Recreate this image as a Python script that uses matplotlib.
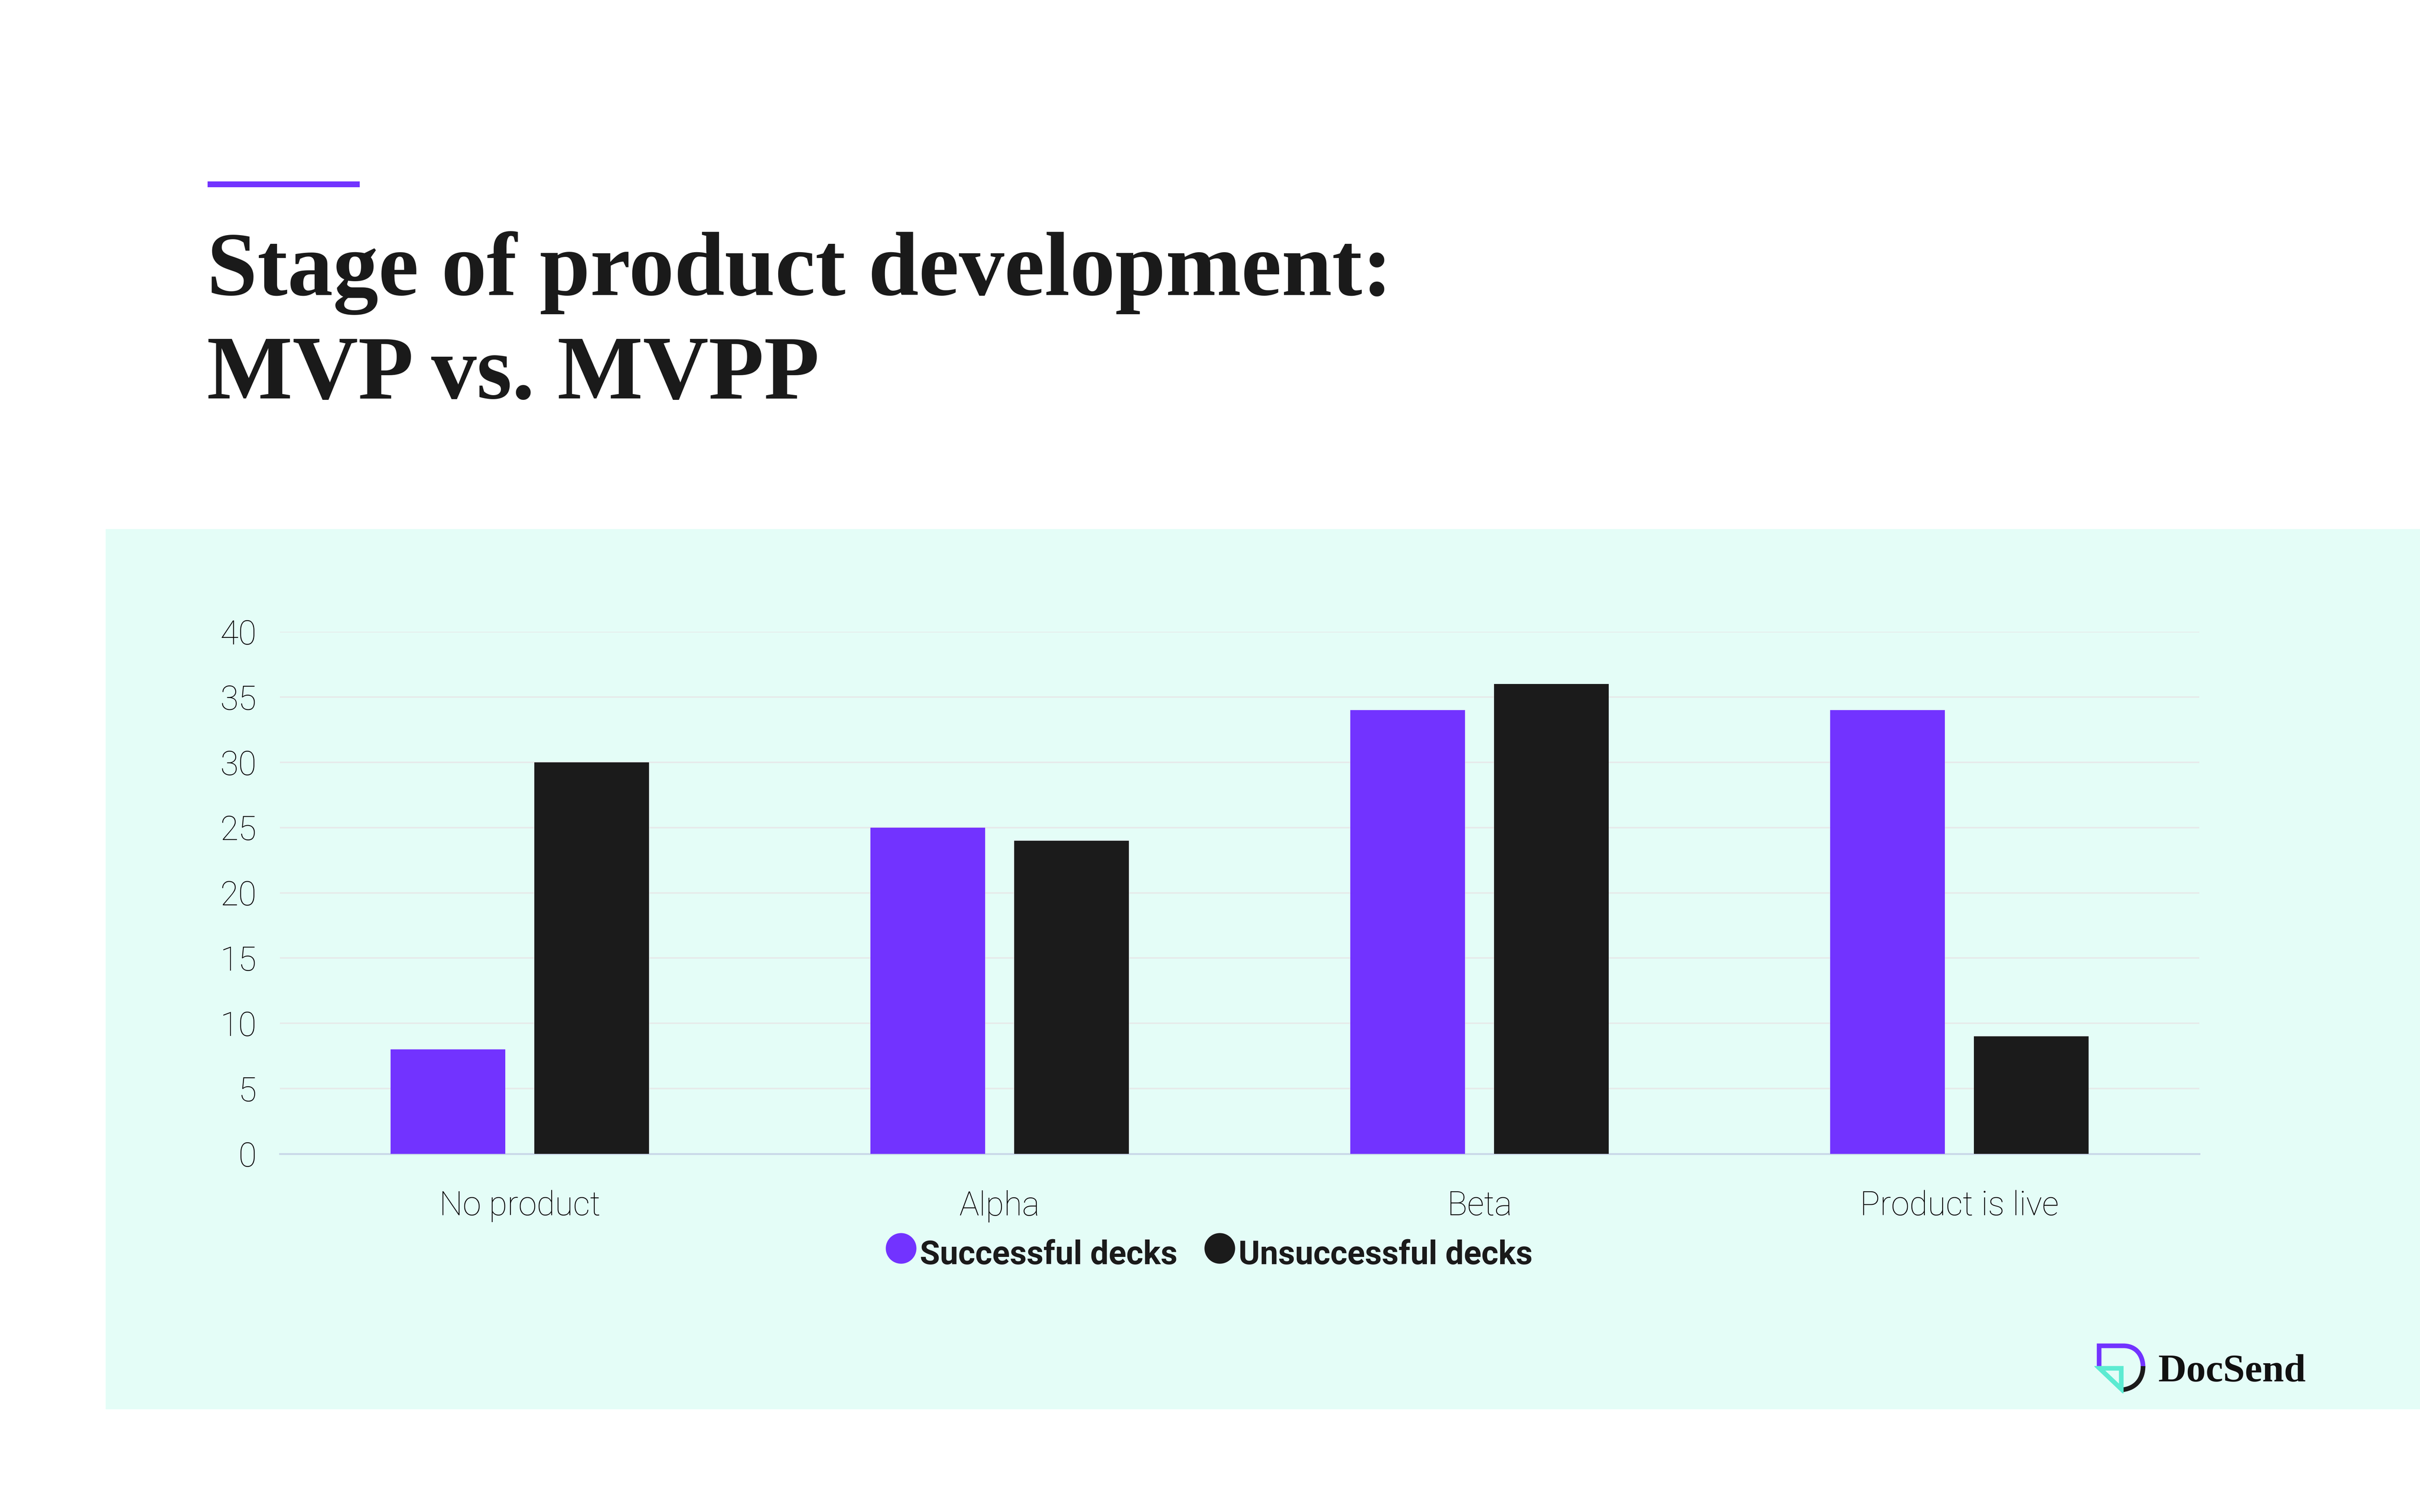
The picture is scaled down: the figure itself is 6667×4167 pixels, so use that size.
import matplotlib
matplotlib.use("Agg")
import matplotlib.pyplot as plt
import numpy as np
from matplotlib.legend_handler import HandlerLine2D
from matplotlib.lines import Line2D
from matplotlib.patches import PathPatch, Rectangle, Polygon
from matplotlib.path import Path

categories = ["No product", "Alpha", "Beta", "Product is live"]
successful = [8, 25, 34, 34]
unsuccessful = [30, 24, 36, 9]
y_ticks = [0, 5, 10, 15, 20, 25, 30, 35, 40]
series_names = ["Successful decks", "Unsuccessful decks"]
title_lines = ["Stage of product development:", "MVP vs. MVPP"]

W, H = 6667, 4167
PURPLE, DARK, PANEL, TEAL = "#7233FF", "#1B1B1B", "#E4FDF7", "#5CEBD2"
GRID, BASE, TXT = "#E6EAEA", "#C9D8E8", "#1A1A1A"
SERIF = "Liberation Serif"
SANS = "Roboto"

fig = plt.figure(figsize=(W / 400, H / 400), dpi=400, facecolor="white")

def fx(x):
    return x / W

def fy(y):
    return 1 - y / H

# panel and accent rule
fig.patches.append(Rectangle((fx(291), fy(3884)), 1 - fx(291), (3884 - 1458) / H,
                             transform=fig.transFigure, facecolor=PANEL, edgecolor="none", zorder=-5))
fig.patches.append(Rectangle((fx(572), fy(516)), (991 - 572) / W, 16 / H,
                             transform=fig.transFigure, facecolor=PURPLE, edgecolor="none"))

# title
fig.text(fx(570), fy(813), title_lines[0], family=SERIF, weight="bold", fontsize=45, color=TXT, va="baseline", ha="left")
fig.text(fx(570), fy(1098), title_lines[1], family=SERIF, weight="bold", fontsize=45, color=TXT, va="baseline", ha="left")

# chart
ax = fig.add_axes([fx(771), fy(3180), (6059 - 771) / W, (3180 - 1741) / H], facecolor="none")
x = np.arange(len(categories))
bar_w, off = 0.239, 0.15
ax.bar(x - off, successful, bar_w, color=PURPLE, zorder=3)
ax.bar(x + off, unsuccessful, bar_w, color=DARK, zorder=3)
ax.set_xlim(-0.5, len(categories) - 0.5)
ax.set_ylim(0, 40)
ax.set_yticks(y_ticks)
ax.set_xticks(x, categories)
ax.yaxis.grid(True, color=GRID, lw=0.75, zorder=0)
ax.set_axisbelow(True)
for s in ("top", "right", "left"):
    ax.spines[s].set_visible(False)
ax.spines["bottom"].set_color(BASE)
ax.spines["bottom"].set_linewidth(0.9)
ax.tick_params(axis="both", length=0, labelsize=16.5, labelcolor="#000000")
ax.tick_params(axis="y", pad=11.5)
ax.tick_params(axis="x", pad=18)
for lab in ax.get_xticklabels() + ax.get_yticklabels():
    lab.set_family(SANS)
    lab.set_fontweight("light")

# legend
class RaisedMarker(HandlerLine2D):
    def create_artists(self, *args, **kwargs):
        artists = super().create_artists(*args, **kwargs)
        for a in artists:
            a.set_ydata(np.asarray(a.get_ydata()) + 2.3)
        return artists

handles = [Line2D([], [], ls="none", marker="o", ms=15.2, mfc=PURPLE, mec="none"),
           Line2D([], [], ls="none", marker="o", ms=15.2, mfc=DARK, mec="none")]
leg = fig.legend(handles, series_names, ncols=2, loc="center", bbox_to_anchor=(fx(3334), fy(3459)),
                 frameon=False, handlelength=0.8, handletextpad=0.18, columnspacing=0.89,
                 borderpad=0, prop={"family": SANS, "weight": "bold", "size": 16.2},
                 handler_map={Line2D: RaisedMarker()})
for t in leg.get_texts():
    t.set_color(TXT)

# logo
lax = fig.add_axes([fx(5770), fy(3840), 150 / W, 140 / H], facecolor="none")
lax.set_xlim(5770, 5920)
lax.set_ylim(3840, 3700)
lax.axis("off")
lw = 2.3
lax.add_patch(PathPatch(Path([(5783, 3768), (5783, 3709), (5850, 3709), (5885, 3709), (5904, 3735), (5904, 3768)],
                             [Path.MOVETO, Path.LINETO, Path.LINETO, Path.CURVE4, Path.CURVE4, Path.CURVE4]),
                        fc="none", ec=PURPLE, lw=lw, capstyle="butt", joinstyle="miter"))
lax.add_patch(PathPatch(Path([(5904, 3765), (5904, 3800), (5885, 3825), (5849, 3830)],
                             [Path.MOVETO, Path.CURVE4, Path.CURVE4, Path.CURVE4]),
                        fc="none", ec=DARK, lw=lw, capstyle="butt"))
lax.add_patch(Polygon([(5784, 3771), (5844, 3771), (5844, 3828)], closed=True, fc="none", ec=TEAL, lw=lw, joinstyle="miter"))
fig.text(fx(5945), fy(3807), "DocSend", family=SERIF, weight="bold", fontsize=19.4, color="#111111", va="baseline", ha="left")

fig.savefig("out.png", dpi=400)
